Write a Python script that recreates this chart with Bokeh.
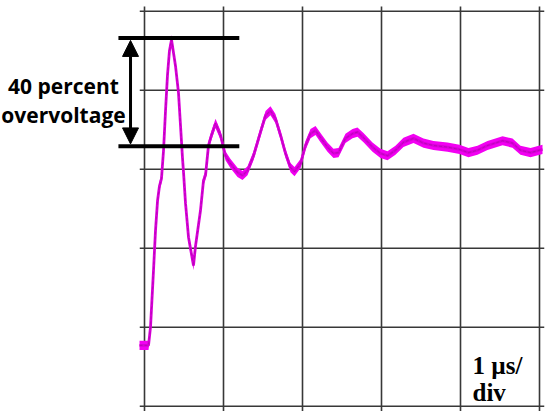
from bokeh.plotting import figure
from bokeh.models import Range1d, Arrow, NormalHead, Label
from bokeh.embed import file_html
from bokeh.resources import INLINE

# Oscilloscope trace: time in microseconds (1 us / div), voltage in divisions
time_us = [-0.063, 0.051, 0.076, 0.114, 0.139, 0.165, 0.190, 0.215, 0.241, 0.266,
           0.291, 0.316, 0.342, 0.392, 0.430, 0.456, 0.481, 0.494, 0.519, 0.557,
           0.620, 0.646, 0.709, 0.747, 0.772, 0.810, 0.848, 0.899, 0.962, 1.025,
           1.089, 1.177, 1.241, 1.304, 1.380, 1.468, 1.532, 1.595, 1.658, 1.722,
           1.785, 1.848, 1.899, 1.975, 2.038, 2.101, 2.165, 2.228, 2.316, 2.392,
           2.456, 2.544, 2.633, 2.696, 2.772, 2.886, 2.987, 3.076, 3.177, 3.278,
           3.405, 3.532, 3.658, 3.835, 3.987, 4.101, 4.215, 4.342, 4.532, 4.658,
           4.759, 4.886, 5.038]
voltage_div = [0.77, 0.77, 1.00, 1.72, 2.22, 2.60, 2.79, 2.88, 3.24, 3.74,
               4.19, 4.50, 4.64, 4.31, 3.97, 3.55, 3.14, 2.96, 2.57, 2.14,
               1.78, 2.03, 2.48, 2.86, 2.92, 3.30, 3.43, 3.58, 3.43, 3.17,
               3.07, 2.96, 2.92, 2.98, 3.17, 3.47, 3.68, 3.74, 3.64, 3.43,
               3.20, 3.02, 2.97, 3.07, 3.30, 3.45, 3.49, 3.40, 3.28, 3.20,
               3.21, 3.39, 3.45, 3.47, 3.40, 3.28, 3.20, 3.17, 3.24, 3.34,
               3.39, 3.33, 3.30, 3.28, 3.25, 3.21, 3.24, 3.30, 3.36, 3.33,
               3.24, 3.21, 3.25]

x_divisions = [0, 1, 2, 3, 4, 5]
y_divisions = [0, 1, 2, 3, 4, 5]

peak_level = 4.66
settled_level = 3.29

annotation_text = ["40 percent", "overvoltage"]
scale_text = ["1 \u00b5s/", "div"]

p = figure(width=550, height=417, output_backend="svg", toolbar_location=None,
           x_range=Range1d(-1.8228, 5.1392), y_range=Range1d(-0.1430, 5.1354),
           min_border=0, x_axis_location=None, y_axis_location=None,
           outline_line_color=None, background_fill_color="white",
           border_fill_color="white")
p.grid.visible = False

grid_color = "#383838"
ov = 0.06
# vertical grid lines
p.segment(x0=x_divisions, x1=x_divisions,
          y0=[min(y_divisions) - ov] * len(x_divisions),
          y1=[max(y_divisions) + ov] * len(x_divisions),
          line_color=grid_color, line_width=1.6)
# horizontal grid lines
p.segment(x0=[min(x_divisions) - ov] * len(y_divisions),
          x1=[max(x_divisions) + ov] * len(y_divisions),
          y0=y_divisions, y1=y_divisions,
          line_color=grid_color, line_width=1.6)

# noisy trace: a band plus a centre line
half = 0.058
p.varea(x=time_us, y1=[v - half for v in voltage_div], y2=[v + half for v in voltage_div],
        fill_color="#f200f2")
p.line(time_us, voltage_div, line_color="#d800d8", line_width=2.8)
p.line(time_us, voltage_div, line_color="#7a1070", line_width=0.7, line_alpha=0.45,
       line_dash="3 2")

# overvoltage markers
p.segment(x0=[-0.33, -0.33], x1=[1.2, 1.2], y0=[peak_level, settled_level],
          y1=[peak_level, settled_level], line_color="black", line_width=4)
p.add_layout(Arrow(x_start=-0.177, y_start=settled_level + 0.03,
                   x_end=-0.177, y_end=peak_level - 0.03,
                   line_width=3, line_color="black",
                   start=NormalHead(size=16, fill_color="black", line_color="black"),
                   end=NormalHead(size=16, fill_color="black", line_color="black")))

p.add_layout(Label(x=-1.025, y=4.047, text=annotation_text[0], text_align="center",
                   text_baseline="alphabetic", text_font="Open Sans",
                   text_font_style="bold", text_font_size="21px", text_color="black"))
p.add_layout(Label(x=-1.025, y=3.686, text=annotation_text[1], text_align="center",
                   text_baseline="alphabetic", text_font="Open Sans",
                   text_font_style="bold", text_font_size="21px", text_color="black"))

p.add_layout(Label(x=4.152, y=0.516, text=scale_text[0], text_align="left",
                   text_baseline="alphabetic", text_font="Liberation Serif",
                   text_font_style="bold", text_font_size="25px", text_color="black"))
p.add_layout(Label(x=4.152, y=0.175, text=scale_text[1], text_align="left",
                   text_baseline="alphabetic", text_font="Liberation Serif",
                   text_font_style="bold", text_font_size="25px", text_color="black"))

open("out.html", "w").write(file_html(p, INLINE))
